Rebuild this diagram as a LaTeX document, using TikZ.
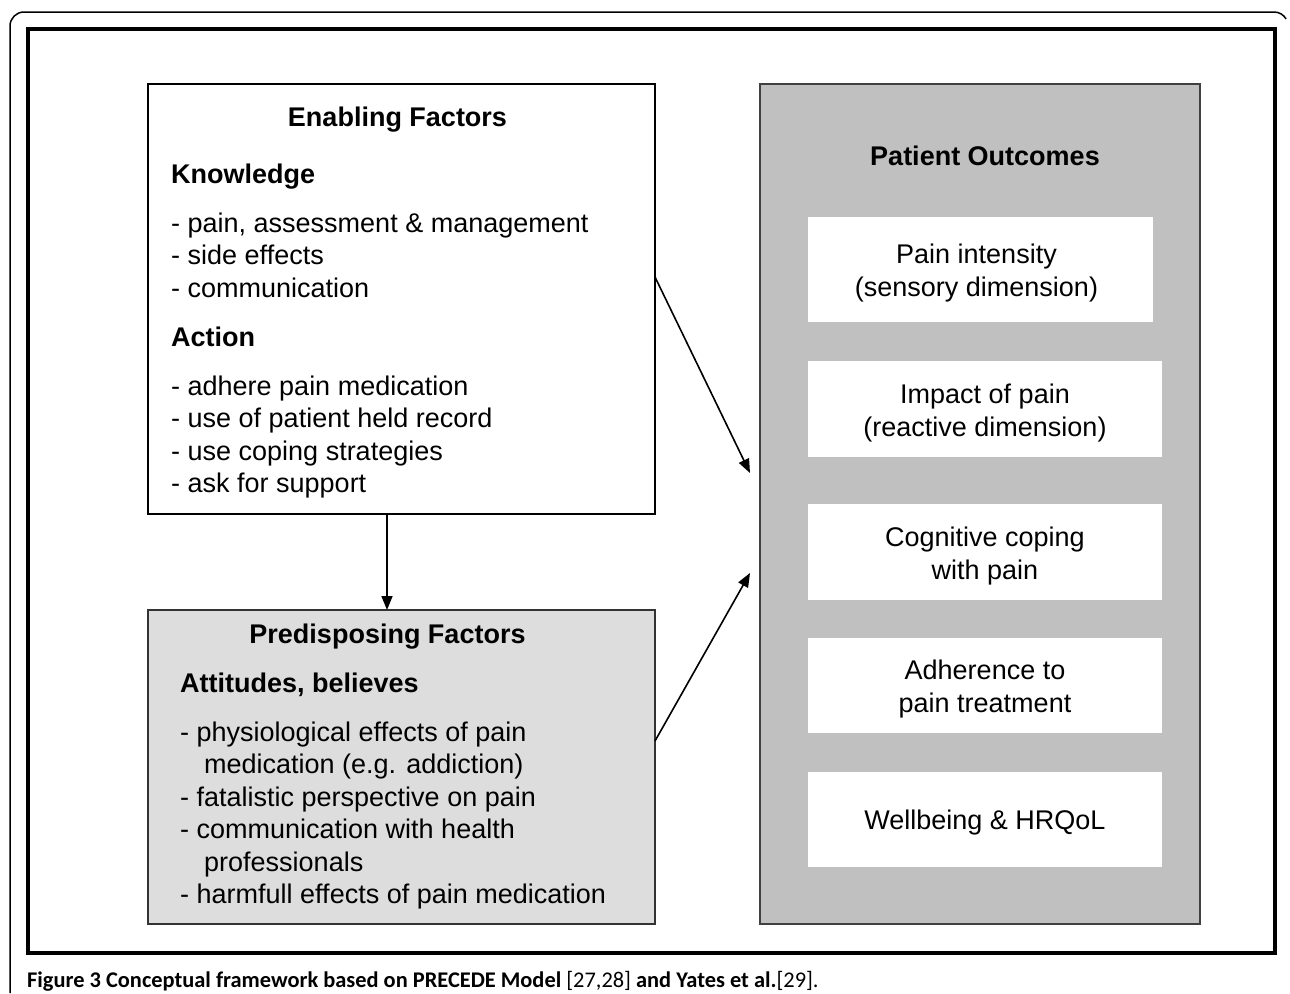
\documentclass[tikz,border=0pt]{standalone}
\usepackage{fontspec}
\setmainfont{Liberation Sans}
\newfontfamily\capfont{Carlito}
\usetikzlibrary{positioning}
\usetikzlibrary{arrows.meta}

\definecolor{outgray}{HTML}{C0C0C0}
\definecolor{pregray}{HTML}{DDDDDD}

\begin{document}
\begin{tikzpicture}[
        x = 1pt, y = -1pt,
        box/.style = {
            draw,
            rectangle,
            line width = 1.8pt,
            inner sep = 0pt,
            outer sep = 0pt
        },
        outbox/.style = {
            rectangle,
            fill = white,
            inner sep = 0pt,
            outer sep = 0pt
        },
        outtext/.style = {
            align = center,
            font = \fontsize{27}{33}\selectfont,
            inner sep = 0pt
        },
        head/.style = {
            font = \bfseries\fontsize{27}{32.5}\selectfont,
            inner sep = 0pt,
            anchor = base
        },
        item/.style = {
            font = \fontsize{27}{32.5}\selectfont,
            inner sep = 0pt,
            anchor = base west
        },
        arr/.style = {
            line width = 1.6pt,
            -{Triangle[length=14pt, width=11pt]}
        }
    ]
    \useasboundingbox (0,0) rectangle (1290,993);

    % frames
    \draw[line width = 1.5pt] (10,993) -- (10,26) arc[start angle=180, end angle=270, radius=14] -- (1274,12) arc[start angle=270, end angle=330, radius=14];
    \draw[line width = 3.5pt] (28,29) rectangle (1275,953);

    % boxes
    \node[box, minimum width = 507pt, minimum height = 430pt] (enab) at (401.5,299) {};
    \node[box, fill=pregray, draw=black!80, minimum width = 507pt, minimum height = 314pt] (predisp) at (401.5,767) {};
    \node[box, fill=outgray, draw=black!75, minimum width = 440pt, minimum height = 840pt] (outc) at (980,504) {};

    % enabling factors
    \node[head] (enabhead) at (397.5,126) {Enabling Factors};
    \node[head, anchor=base west] (know) at (171,183) {Knowledge};
    \foreach \txt [count=\i] in {{- pain, assessment \& management}, {- side effects}, {- communication}}
        \node[item] (k\i) at (171, {232+32.5*(\i-1)}) {\txt};
    \node[head, anchor=base west] (act) at (171,346) {Action};
    \foreach \txt [count=\i] in {{- adhere pain medication}, {- use of patient held record}, {- use coping strategies}, {- ask for support}}
        \node[item] (a\i) at (171, {395+32.5*(\i-1)}) {\txt};

    % predisposing factors
    \node[head] (prehead) at (387.5,643) {Predisposing Factors};
    \node[head, anchor=base west] (att) at (180,692) {Attitudes, believes};
    \node[item] (p1) at (180,741) {- physiological effects of pain};
    \node[item] (p2) at (204,773.5) {medication (e.g. addiction)};
    \node[item] (p3) at (180,806) {- fatalistic perspective on pain};
    \node[item] (p4) at (180,838.5) {- communication with health};
    \node[item] (p5) at (204,871) {professionals};
    \node[item] (p6) at (180,903.5) {- harmfull effects of pain medication};

    % patient outcomes
    \node[head] (outhead) at (985,165) {Patient Outcomes};
    \node[outbox, minimum width = 345pt, minimum height = 105pt] (o1) at (980.5,269.5) {};
    \node[outbox, minimum width = 354pt, minimum height = 96pt] (o2) at (985,409) {};
    \node[outbox, minimum width = 354pt, minimum height = 96pt] (o3) at (985,552) {};
    \node[outbox, minimum width = 354pt, minimum height = 95pt] (o4) at (985,685.5) {};
    \node[outbox, minimum width = 354pt, minimum height = 95pt] (o5) at (985,819.5) {};
    \node[outtext] (t1) at ([xshift=-4pt, yshift=-4pt]o1) {Pain intensity\\(sensory dimension)};
    \node[outtext] (t2) at ([yshift=-4pt]o2) {Impact of pain\\(reactive dimension)};
    \node[outtext] (t3) at ([yshift=-4pt]o3) {Cognitive coping\\with pain};
    \node[outtext] (t4) at ([yshift=-4pt]o4) {Adherence to\\pain treatment};
    \node[outtext] (t5) at ([yshift=-3pt]o5) {Wellbeing \& HRQoL};

    % arrows
    \draw[arr] ([yshift=22pt]enab.east) -- ([xshift=-10pt, yshift=31pt]outc.west);
    \draw[arr] ([yshift=26pt]predisp.east) -- ([xshift=-10pt, yshift=-69pt]outc.west);
    \draw[arr] ([xshift=-14.5pt]enab.south) -- ([xshift=-14.5pt]predisp.north);

    % caption
    \node[anchor=base west, inner sep=0pt, font=\capfont\bfseries\fontsize{22.4}{26}\selectfont] (cap) at (27,987)
        {Figure 3 Conceptual framework based on PRECEDE Model {\mdseries[27,28]} and Yates et al.{\mdseries[29].}};
\end{tikzpicture}
\end{document}
